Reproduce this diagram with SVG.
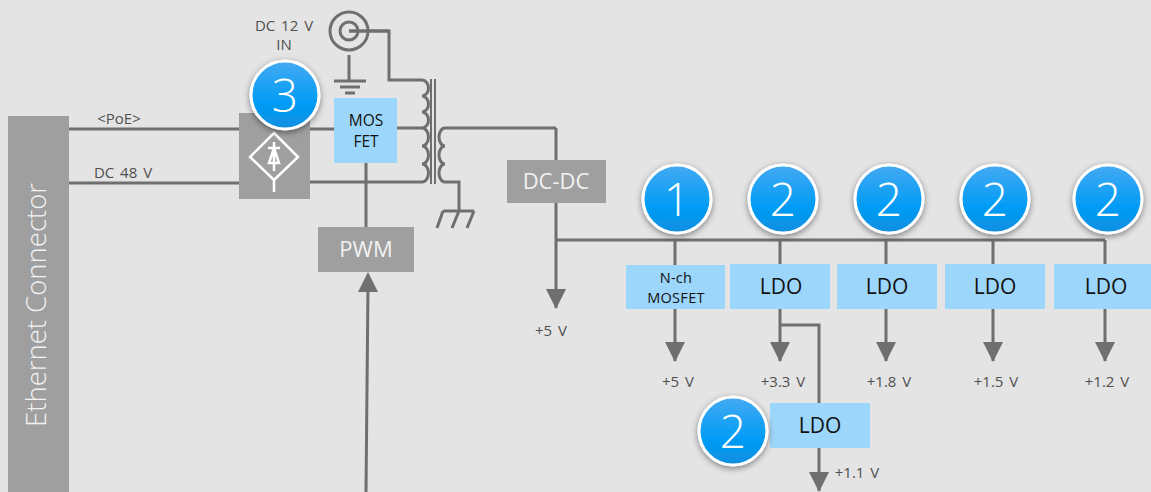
<svg xmlns="http://www.w3.org/2000/svg" width="1151" height="492" viewBox="0 0 1151 492">
<style>
text{font-family:"Open Sans","Noto Sans","Liberation Sans",sans-serif;text-anchor:middle}
.w{stroke:#6f6f6f;stroke-width:3;fill:none}
.bl{fill:#9dd6fb}
.gr{fill:#9f9f9f}
.lab{font-size:15px;fill:#505050;word-spacing:2px}
.t{font-size:21px;fill:#111}
.s{font-size:15.5px;fill:#111}
.n{font-size:14.500px;fill:#111;letter-spacing:.3px}
.g{font-size:22px;fill:#f2f2f2}
.bt{font-size:46px;fill:#fff;font-weight:300}
.bc{fill:url(#bg);stroke:#fff;stroke-width:3;filter:url(#sh)}
.sym{stroke:#fff;stroke-width:2.5;fill:none}
</style>
<defs>
<linearGradient id="bg" x1="0" y1="0" x2="0" y2="1"><stop offset="0" stop-color="#45aaf2"/><stop offset="0.6" stop-color="#039cf6"/><stop offset="1" stop-color="#0a8fe0"/></linearGradient>
<filter id="sh" x="-30%" y="-30%" width="160%" height="160%"><feDropShadow dx="0" dy="2" stdDeviation="3" flood-color="#000" flood-opacity="0.45"/></filter>
<marker id="ar" markerUnits="userSpaceOnUse" markerWidth="20" markerHeight="20" refX="19" refY="10" orient="auto"><path d="M0 0L20 10L0 20Z" fill="#6f6f6f"/></marker>
</defs>
<rect width="1151" height="492" fill="#e4e4e4"/>
<g id="connectors">
<path class="w" d="M69 129H334M69 183H239M309 182H422"/>
<path class="w" d="M349 31H389V80H422M349 55V81M334 81H366M340 87H360M345 93H355"/>
<path class="w" d="M397 128H422"/>
<path class="w" d="M422 80A6.500 8 0 0 1 422 96A6.500 8 0 0 1 422 112A6.500 8 0 0 1 422 128A6.500 9 0 0 1 422 146A6.500 9 0 0 1 422 164A6.500 9 0 0 1 422 182"/>
<path class="w" style="stroke-width:2" d="M431 79V184M435 79V184"/>
<path class="w" d="M556 128H445A6 9 0 0 0 445 146A6 9 0 0 0 445 164A6 9 0 0 0 445 182H459V211M443 211H474M443 211L437 228M459 211L452 228M474 211L467 228"/>
<path class="w" d="M556 128V160M556 203V308" marker-end="url(#ar)"/>
<path class="w" d="M556 240H1105"/>
<path class="w" d="M366 163V227"/>
<path class="w" d="M368 285L366 492"/>
<path d="M358 292L368 272L378 292Z" fill="#6f6f6f"/>
<path class="w" d="M675 240V265M780 240V265M886 240V265M993 240V265M1105 240V265"/>
<path class="w" d="M675 309V361" marker-end="url(#ar)"/>
<path class="w" d="M780 309V361" marker-end="url(#ar)"/>
<path class="w" d="M886 309V361" marker-end="url(#ar)"/>
<path class="w" d="M993 309V361" marker-end="url(#ar)"/>
<path class="w" d="M1105 309V361" marker-end="url(#ar)"/>
<path class="w" d="M780 325H819V403"/>
<path class="w" d="M819 448V491" marker-end="url(#ar)"/>
</g>
<g id="ethernet"><rect x="8" y="116" width="61" height="376" class="gr"/><text transform="translate(46 305) rotate(-90)" style="font-size:27.500px;fill:#f2f2f2;font-weight:300">Ethernet Connector</text></g>
<g id="labels">
<text x="119" y="124" class="lab">&lt;PoE&gt;</text>
<text x="123" y="178" class="lab">DC 48 V</text>
<text x="284" y="31" class="lab">DC 12 V</text>
<text x="284" y="50" class="lab">IN</text>
<text x="551" y="336" class="lab">+5 V</text>
<text x="678" y="387" class="lab">+5 V</text>
<text x="783" y="387" class="lab">+3.3 V</text>
<text x="889" y="387" class="lab">+1.8 V</text>
<text x="996" y="387" class="lab">+1.5 V</text>
<text x="1107" y="387" class="lab">+1.2 V</text>
<text x="857" y="478" class="lab">+1.1 V</text>
</g>
<g id="jack"><circle cx="349" cy="31" r="19" class="w"/><circle cx="349" cy="31" r="9" class="w"/><path class="w" d="M349 31H389"/></g>
<g id="rectifier"><rect x="239" y="113" width="71" height="86" class="gr"/><path class="sym" d="M274 133L298 157L274 180L250 157ZM274 180V192M274 142V171M268 148H280M274 148L269 163H279Z"/></g>
<g id="mosfet"><rect x="334" y="98" width="63" height="65" class="bl"/><text x="366" y="126" class="s">MOS</text><text x="366" y="147" class="s">FET</text></g>
<g id="dcdc"><rect x="507" y="160" width="99" height="43" class="gr"/><text x="556" y="189" class="g">DC-DC</text></g>
<g id="pwm"><rect x="318" y="227" width="96" height="45" class="gr"/><text x="366" y="257" class="g">PWM</text></g>
<g id="nch"><rect x="626" y="265" width="99" height="44" class="bl"/><text x="676" y="283" class="n">N-ch</text><text x="676" y="303" class="n">MOSFET</text></g>
<g id="ldo33"><rect x="730" y="264" width="100" height="45" class="bl"/><text x="781" y="294" class="t">LDO</text></g>
<g id="ldo18"><rect x="837" y="264" width="100" height="45" class="bl"/><text x="887" y="294" class="t">LDO</text></g>
<g id="ldo15"><rect x="945" y="264" width="100" height="45" class="bl"/><text x="995" y="294" class="t">LDO</text></g>
<g id="ldo12"><rect x="1054" y="264" width="97" height="45" class="bl"/><text x="1106" y="294" class="t">LDO</text></g>
<g id="ldo11"><rect x="770" y="403" width="100" height="45" class="bl"/><text x="820" y="433" class="t">LDO</text></g>
<g id="badge3"><circle cx="285" cy="95" r="34" class="bc"/><text x="285" y="112" class="bt">3</text></g>
<g id="badge1"><circle cx="677" cy="199" r="34" class="bc"/><text x="677" y="216" class="bt">1</text></g>
<g id="badge2a"><circle cx="783" cy="199" r="34" class="bc"/><text x="783" y="216" class="bt">2</text></g>
<g id="badge2b"><circle cx="889" cy="199" r="34" class="bc"/><text x="889" y="216" class="bt">2</text></g>
<g id="badge2c"><circle cx="995" cy="199" r="34" class="bc"/><text x="995" y="216" class="bt">2</text></g>
<g id="badge2d"><circle cx="1108" cy="199" r="34" class="bc"/><text x="1108" y="216" class="bt">2</text></g>
<g id="badge2e"><circle cx="733" cy="431" r="34" class="bc"/><text x="733" y="448" class="bt">2</text></g>
</svg>
